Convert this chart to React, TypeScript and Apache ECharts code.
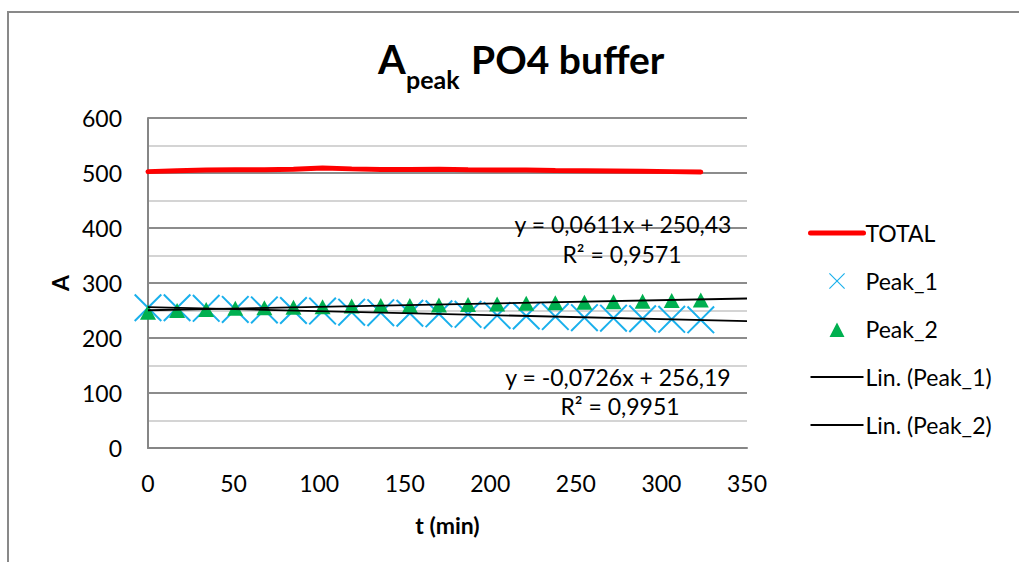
import React, { useEffect, useRef } from "react";
import * as echarts from "echarts";

const tMin = [0, 17, 34, 51, 68, 85, 102, 119, 136, 153, 170, 187, 204, 221, 238, 255, 272, 289, 306, 323];
const total = [502.5, 504, 505.5, 506, 506, 507, 509, 507.5, 506.5, 506.5, 507, 506, 505.5, 505.5, 504.5, 504, 503.5, 503, 502.5, 502];
const peak1 = [255, 255, 254, 252, 251, 250, 249, 247, 246, 245, 244, 243, 241, 240, 239, 237, 236, 235, 234, 233];
const peak2 = [247, 250, 252, 254, 255, 256, 257, 258, 259, 259, 260, 261, 262, 263, 264, 265, 266, 267, 268, 269];

// trendline coefficients as printed on the chart
const fit1 = { slope: -0.0726, intercept: 256.19, r2: "0,9951", label: "y = -0,0726x + 256,19" };
const fit2 = { slope: 0.0611, intercept: 250.43, r2: "0,9571", label: "y = 0,0611x + 250,43" };
const trendRange = [0, 350];

const titleMain = "A";
const titleSub = "peak";
const titleRest = "PO4 buffer";

const FONT = "Lato, 'Open Sans', sans-serif";
const CROSS =
  "path://M0,0.5 L0.5,0 L5,4.5 L9.5,0 L10,0.5 L5.5,5 L10,9.5 L9.5,10 L5,5.5 L0.5,10 L0,9.5 L4.5,5 Z";
// triangle legend icon padded to the legend box so it is not stretched
const TRI_ICON =
  "path://M0,0 L0.01,0 L0.01,0.01 Z M53,16 L52.99,16 L52.99,15.99 Z M19,16 L26.5,1.5 L34,16 Z";

export default function App() {
  const ref = useRef<HTMLDivElement>(null);
  useEffect(() => {
    if (!ref.current) return;
    const chart = echarts.init(ref.current, null, { renderer: "svg" });
    const zip = (ys: number[]) => tMin.map((t, i) => [t, ys[i]]);
    const trend = (f: { slope: number; intercept: number }) =>
      trendRange.map((t) => [t, f.intercept + f.slope * t]);
    const txt = (x: number, y: number, text: string, size: number, bold = false, align = "center") => ({
      type: "text",
      x,
      y,
      z: 100,
      silent: true,
      style: {
        text,
        fontFamily: FONT,
        fontSize: size,
        fontWeight: bold ? "bold" : "normal",
        fill: "#000",
        align,
        verticalAlign: "middle",
      },
    });
    chart.setOption({
      animation: false,
      backgroundColor: "#ffffff",
      textStyle: { fontFamily: FONT },
      grid: { left: 148, right: 272, top: 118, bottom: 114, containLabel: false },
      xAxis: {
        type: "value",
        min: 0,
        max: 350,
        interval: 50,
        name: "t (min)",
        nameLocation: "middle",
        nameGap: 65,
        nameTextStyle: { fontFamily: FONT, fontSize: 23, fontWeight: "bold", color: "#000", lineHeight: 24 },
        axisLine: { show: true, lineStyle: { color: "#868686", width: 2 } },
        axisTick: { show: false },
        splitLine: { show: false },
        axisLabel: { fontFamily: FONT, fontSize: 23, color: "#000", margin: 23, lineHeight: 24 },
      },
      yAxis: {
        type: "value",
        min: 0,
        max: 600,
        interval: 100,
        name: "A",
        nameLocation: "middle",
        nameGap: 74,
        nameTextStyle: { fontFamily: FONT, fontSize: 23, fontWeight: "bold", color: "#000" },
        axisLine: { show: true, lineStyle: { color: "#868686", width: 2 } },
        axisTick: { show: false },
        splitLine: { show: true, lineStyle: { color: "#8c8c8c", width: 2 } },
        minorTick: { show: false, splitNumber: 2 },
        minorSplitLine: { show: true, lineStyle: { color: "#d4d4d4", width: 2 } },
        axisLabel: { fontFamily: FONT, fontSize: 23, color: "#000", margin: 26 },
      },
      legend: {
        orient: "vertical",
        left: 808,
        top: 221,
        padding: 0,
        itemWidth: 53,
        itemHeight: 16,
        itemGap: 24,
        textStyle: { fontFamily: FONT, fontSize: 23, color: "#000", lineHeight: 24, padding: [0, 0, 0, -3] },
        data: [
          { name: "TOTAL", lineStyle: { width: 5, cap: "round" } },
          "Peak_1",
          { name: "Peak_2", icon: TRI_ICON },
          { name: "Lin. (Peak_1)", lineStyle: { width: 1.8 } },
          { name: "Lin. (Peak_2)", lineStyle: { width: 1.8 } },
        ],
      },
      graphic: [
        {
          type: "rect",
          shape: { x: 8, y: 12, width: 1100, height: 700 },
          style: { fill: "none", stroke: "#898989", lineWidth: 2 },
          silent: true,
          z: -10,
        },
        txt(378, 59, titleMain, 40, true, "left"),
        txt(406, 79, titleSub, 25, true, "left"),
        txt(471, 59, titleRest, 39, true, "left"),
        txt(623, 224, fit2.label, 23),
        txt(622, 254, "R² = " + fit2.r2, 23),
        txt(618, 377, fit1.label, 23),
        txt(620, 406, "R² = " + fit1.r2, 23),
      ],
      series: [
        {
          name: "TOTAL",
          type: "line",
          data: zip(total),
          showSymbol: false,
          symbol: "none",
          lineStyle: { color: "#ff0000", width: 5, cap: "round" },
          itemStyle: { color: "rgba(0,0,0,0)", borderWidth: 0 },
          z: 2,
        },
        {
          name: "Peak_1",
          type: "scatter",
          data: zip(peak1),
          symbol: CROSS,
          symbolSize: 28,
          symbolKeepAspect: true,
          itemStyle: { color: "#1AB0EC", opacity: 1 },
          z: 3,
        },
        {
          name: "Peak_2",
          type: "scatter",
          data: zip(peak2),
          symbol: "triangle",
          symbolSize: [16, 15],
          itemStyle: { color: "#00B050", opacity: 1 },
          z: 4,
        },
        {
          name: "Lin. (Peak_1)",
          type: "line",
          data: trend(fit1),
          showSymbol: false,
          symbol: "none",
          lineStyle: { color: "#000", width: 1.8 },
          itemStyle: { color: "rgba(0,0,0,0)", borderWidth: 0 },
          z: 5,
        },
        {
          name: "Lin. (Peak_2)",
          type: "line",
          data: trend(fit2),
          showSymbol: false,
          symbol: "none",
          lineStyle: { color: "#000", width: 1.8 },
          itemStyle: { color: "rgba(0,0,0,0)", borderWidth: 0 },
          z: 5,
        },
      ],
    });
    return () => chart.dispose();
  }, []);
  return <div ref={ref} style={{ position: "fixed", left: 0, top: 0, width: 1019, height: 562 }} />;
}
